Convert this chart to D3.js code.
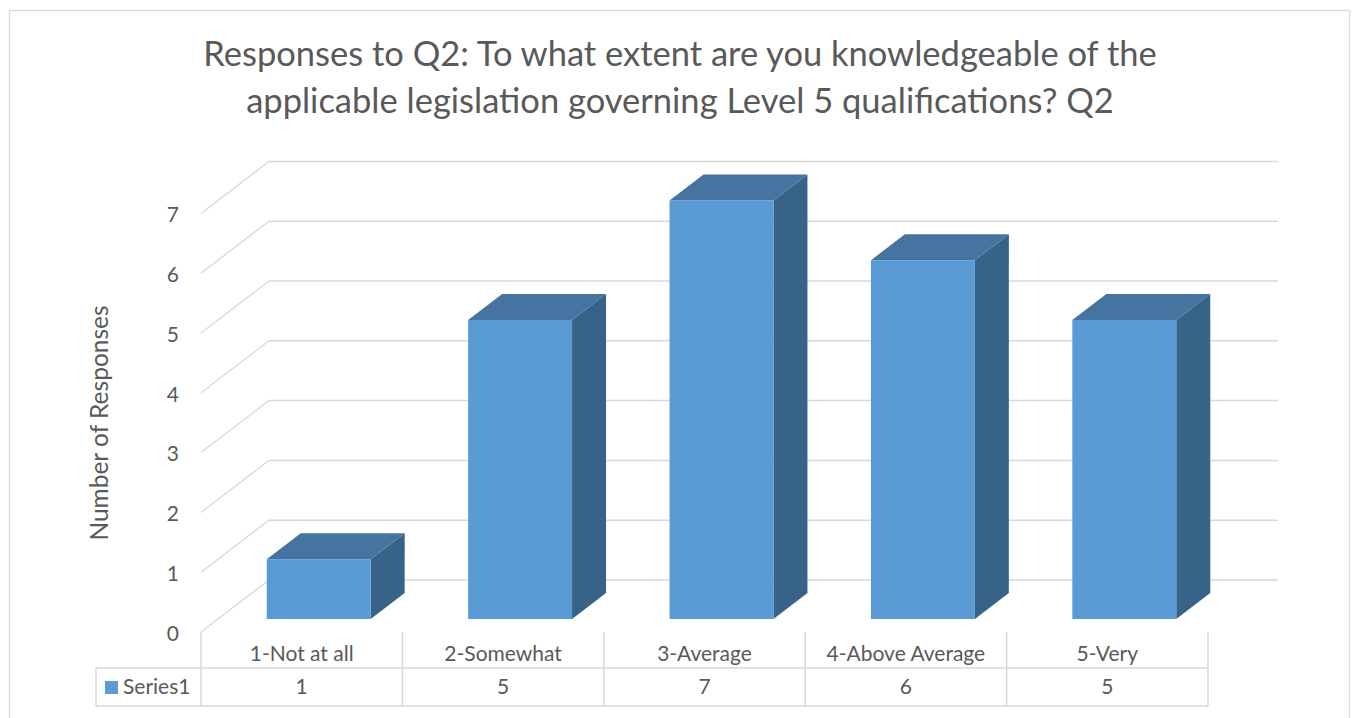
<!DOCTYPE html>
<html lang="en">
<head>
    <meta charset="utf-8">
    <title>Responses to Q2</title>
    <script type="text/javascript" src="https://d3js.org/d3.v7.min.js"></script>
    <style>
        body { margin: 0; background: #fff; }
        text { font-family: Lato, "Open Sans", sans-serif; fill: #595959; }
    </style>
</head>
<body>
    <script type="text/javascript">

        // data
        var categories = ["1-Not at all", "2-Somewhat", "3-Average", "4-Above Average", "5-Very"];
        var values = [1, 5, 7, 6, 5];
        var seriesName = "Series1";
        var yTicks = [0, 1, 2, 3, 4, 5, 6, 7];
        var titleLines = [
            "Responses to Q2: To what extent are you knowledgeable of the",
            "applicable legislation governing Level 5 qualifications? Q2"
        ];
        var yTitle = "Number of Responses";

        var width = 1352, height = 718;
        var grid = "#d9d9d9";
        var depthX = 68, depthY = -52;   // oblique offset of the whole floor

        var svg = d3.select("body")
            .append("svg")
            .attr("width", width)
            .attr("height", height);

        // outer chart border
        svg.append("rect")
            .attr("x", 9.5).attr("y", 10.5)
            .attr("width", 1340).attr("height", 720)
            .attr("fill", "none")
            .attr("stroke", grid)
            .attr("stroke-width", 1.3);

        // title
        svg.append("g").selectAll("text")
            .data(titleLines)
            .enter()
            .append("text")
            .attr("x", 680)
            .attr("y", function (d, i) { return 66 + i * 47; })
            .attr("text-anchor", "middle")
            .attr("font-size", 34.5)
            .text(function (d) { return d; });

        var x = d3.scaleBand()
            .domain(categories)
            .range([201, 1208]);

        var y = d3.scaleLinear()
            .domain([0, 8])
            .range([632, 632 - 8 * 59.8]);

        // back wall gridlines + left wall diagonals
        var gl = svg.append("g");
        yTicks.forEach(function (t) {
            gl.append("line")
                .attr("x1", x.range()[0] + depthX).attr("x2", x.range()[1] + depthX + 2)
                .attr("y1", y(t) + depthY).attr("y2", y(t) + depthY)
                .attr("stroke", grid).attr("stroke-width", 1.5);
            gl.append("line")
                .attr("x1", x.range()[0]).attr("x2", x.range()[0] + depthX)
                .attr("y1", y(t)).attr("y2", y(t) + depthY)
                .attr("stroke", grid).attr("stroke-width", 1.3);
        });

        // y tick labels
        svg.append("g").selectAll("text")
            .data(yTicks)
            .enter()
            .append("text")
            .attr("x", 179)
            .attr("y", function (d) { return y(d) + 1.5; })
            .attr("dy", "0.35em")
            .attr("text-anchor", "end")
            .attr("font-size", 21)
            .text(function (d) { return d; });

        // y axis title
        svg.append("text")
            .attr("transform", "translate(108,423) rotate(-90)")
            .attr("text-anchor", "middle")
            .attr("font-size", 24.5)
            .text(yTitle);

        // 3d bars
        var barW = x.bandwidth() * 0.516;
        var f0 = 0.25, f1 = 0.75;   // depth of bar front/back
        var ox = depthX * f0, oy = depthY * f0;
        var dx = depthX * (f1 - f0), dy = depthY * (f1 - f0);

        var bars = svg.append("g").selectAll("g")
            .data(values)
            .enter()
            .append("g");

        function pts(p) { return p.map(function (q) { return q.join(","); }).join(" "); }

        bars.each(function (d, i) {
            var g = d3.select(this);
            var x0 = x(categories[i]) + x.bandwidth() / 2 - barW / 2 + ox;
            var x1 = x0 + barW;
            var yt = y(d) + oy, yb = y(0) + oy;
            g.append("polygon")
                .attr("points", pts([[x1, yt], [x1 + dx, yt + dy], [x1 + dx, yb + dy], [x1, yb]]))
                .attr("fill", "#386389");
            g.append("polygon")
                .attr("points", pts([[x0, yt], [x0 + dx, yt + dy], [x1 + dx, yt + dy], [x1, yt]]))
                .attr("fill", "#44749f");
            g.append("rect")
                .attr("x", x0).attr("y", yt)
                .attr("width", barW).attr("height", yb - yt)
                .attr("fill", "#5b9bd5");
        });

        // data table
        var rowTop = 632, rowMid = 668, rowBot = 706, legendLeft = 96;
        var tb = svg.append("g").attr("stroke", grid).attr("stroke-width", 1.5);
        tb.append("line").attr("x1", legendLeft).attr("x2", x.range()[1])
            .attr("y1", rowMid).attr("y2", rowMid);
        tb.append("line").attr("x1", legendLeft).attr("x2", x.range()[1])
            .attr("y1", rowBot).attr("y2", rowBot);
        tb.append("line").attr("x1", legendLeft).attr("x2", legendLeft)
            .attr("y1", rowMid).attr("y2", rowBot);
        categories.concat([null]).forEach(function (c, i) {
            var xx = i < categories.length ? x(c) : x.range()[1];
            tb.append("line").attr("x1", xx).attr("x2", xx)
                .attr("y1", rowTop).attr("y2", rowBot);
        });

        svg.append("g").selectAll("text")
            .data(categories)
            .enter()
            .append("text")
            .attr("x", function (d) { return x(d) + x.bandwidth() / 2; })
            .attr("y", 654)
            .attr("dy", "0.35em")
            .attr("text-anchor", "middle")
            .attr("font-size", 21)
            .text(function (d) { return d; });

        svg.append("g").selectAll("text")
            .data(values)
            .enter()
            .append("text")
            .attr("x", function (d, i) { return x(categories[i]) + x.bandwidth() / 2; })
            .attr("y", 687)
            .attr("dy", "0.35em")
            .attr("text-anchor", "middle")
            .attr("font-size", 21)
            .text(function (d) { return d; });

        // legend key in the table
        svg.append("rect")
            .attr("x", 105).attr("y", 681)
            .attr("width", 13).attr("height", 13)
            .attr("fill", "#5b9bd5");
        svg.append("text")
            .attr("x", 123).attr("y", 687)
            .attr("dy", "0.35em")
            .attr("font-size", 21)
            .text(seriesName);

    </script>
</body>
</html>
